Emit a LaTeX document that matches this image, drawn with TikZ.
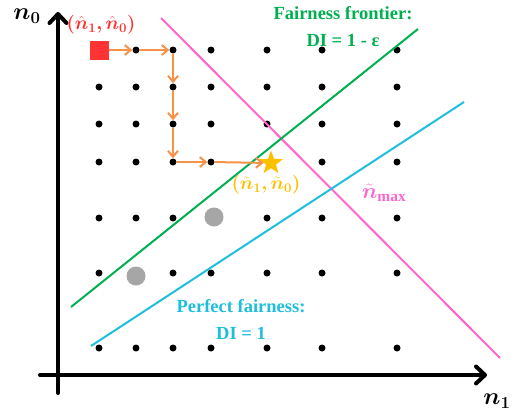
\RequirePackage{fix-cm}
\documentclass[tikz,border=0pt]{standalone}
\usepackage{amsmath}
\usepackage{bm}
\usepackage{fontspec}
\setmainfont{Liberation Serif}
\usepackage{xcolor}
\usepackage{tikz}
\usetikzlibrary{arrows.meta,shapes.geometric,positioning}

\definecolor{frontgreen}{RGB}{0,176,80}
\definecolor{fairblue}{RGB}{30,190,220}
\definecolor{maxpink}{RGB}{255,102,204}
\definecolor{pathorange}{RGB}{248,146,72}
\definecolor{startred}{RGB}{255,51,51}
\definecolor{goldstar}{RGB}{255,192,0}
\definecolor{ptgray}{RGB}{166,166,166}

\begin{document}
\begin{tikzpicture}[
    x=1pt, y=1pt,
    dot/.style={circle, fill=black, inner sep=0pt, minimum size=7pt},
    graydot/.style={circle, fill=ptgray, inner sep=0pt, minimum size=19pt},
    startbox/.style={rectangle, fill=startred, inner sep=0pt, minimum size=19pt},
    goal/.style={star, star points=5, star point ratio=2.4, fill=goldstar, inner sep=0pt, minimum size=25pt},
    axis/.style={line width=4pt, line cap=round, -{Straight Barb[length=9pt,width=17pt,line cap=round,line join=round]}},
    stepto/.style={pathorange, line width=2pt, -{Straight Barb[length=6pt,width=10pt]}},
    boundary/.style={line width=2pt},
    lbl/.style={font=\bfseries\fontsize{18.5}{27}\selectfont, align=center},
    mathlbl/.style={font=\fontsize{19}{21}\selectfont, inner sep=1pt}
  ]
    \useasboundingbox (0,0) rectangle (521,-418);

    % Axes
    \coordinate (ybot) at (58,-393);
    \coordinate (ytop) at (58,-12);
    \coordinate (xleft) at (40,-375);
    \coordinate (xright) at (487,-375);
    \draw[axis] (ybot) -- (ytop);
    \draw[axis] (xleft) -- (xright);
    \node[font=\fontsize{24}{26}\selectfont] (n0) at (27,-16) {$\bm{n_0}$};
    \node[font=\fontsize{24}{26}\selectfont] (n1) at (497,-401) {$\bm{n_1}$};

    % Grid of integer points (rows by pixel height)
    \foreach \y/\xs in {50/{136,173,211,267,322,397},
                        87/{99,136,173,211,267,322,397},
                        124/{99,136,173,211,267,322,397},
                        162/{99,136,173,211,322,397},
                        218/{99,136,173,267,322,397},
                        273/{99,173,211,267,322,397},
                        348/{99,136,173,211,267,322,397}}
      \foreach \x in \xs
        \node[dot] (d-\x-\y) at (\x,-\y) {};

    % Boundaries
    \coordinate (pinkA) at (161,-18);
    \coordinate (pinkB) at (500,-358);
    \coordinate (greenA) at (71,-307);
    \coordinate (greenB) at (418,-29);
    \coordinate (blueA) at (91,-346);
    \coordinate (blueB) at (464,-102);
    \draw[boundary, maxpink] (pinkA) -- (pinkB);
    \draw[boundary, frontgreen] (greenA) -- (greenB);
    \draw[boundary, fairblue] (blueA) -- (blueB);

    % Special points
    \node[graydot] (g1) at (214,-217) {};
    \node[graydot] (g2) at (136,-276) {};
    \node[startbox] (start) at (99.5,-50) {};
    \node[goal] (goal) at (271,-163) {};

    % Search path
    \draw[stepto] (start) -- (d-136-50);
    \draw[stepto] (d-136-50) -- (d-173-50);
    \draw[stepto] (d-173-50) -- (d-173-87);
    \draw[stepto] (d-173-87) -- (d-173-124);
    \draw[stepto] (d-173-124) -- (d-173-162);
    \draw[stepto] (d-173-162) -- (d-211-162);
    \draw[stepto] (d-211-162) -- (goal);

    % Labels
    \node[mathlbl, text=startred] (startlbl) at (101,-25) {$\bm{(\hat{n}_1, \hat{n}_0)}$};
    \node[mathlbl, text=goldstar] (goallbl) at (266,-185) {$\bm{(\tilde{n}_1, \tilde{n}_0)}$};
    \node[font=\fontsize{22}{24}\selectfont, text=maxpink] (maxlbl) at (384,-193) {$\bm{\tilde{n}}_{\mathbf{max}}$};
    \node[lbl, text=frontgreen] (frontlbl) at (343,-27) {Fairness frontier:\\DI = 1 - ε};
    \node[lbl, text=fairblue] (fairlbl) at (241,-319) {Perfect fairness:\\DI = 1};

  \end{tikzpicture}
\end{document}
